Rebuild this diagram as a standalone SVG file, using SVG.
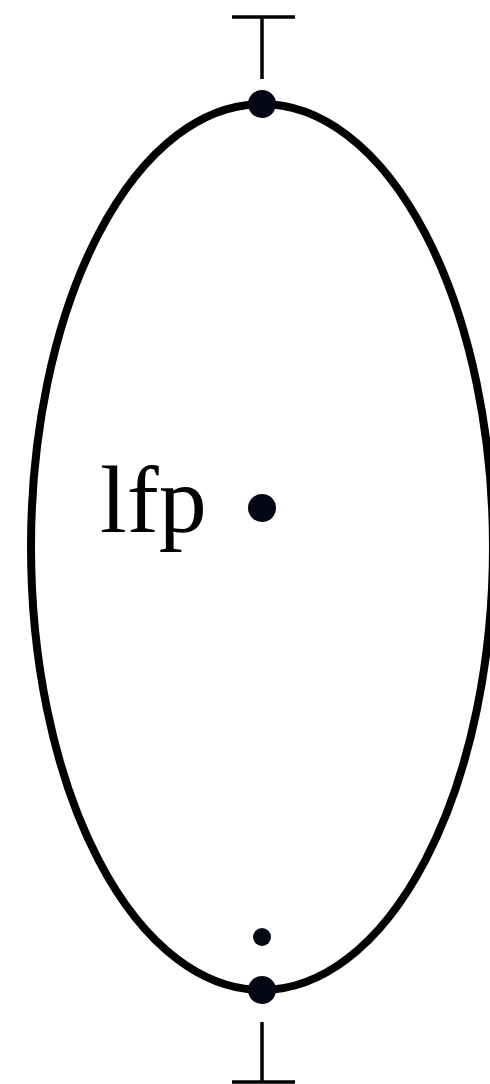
<svg xmlns="http://www.w3.org/2000/svg" width="490" height="1084" viewBox="0 0 490 1084">
<style>
.ln{stroke:#000;stroke-width:3.5;fill:none}
.dot{fill:#050714}
.lbl{font-family:"Liberation Serif","Times New Roman",serif;font-size:96px;fill:#000}
</style>
<rect width="490" height="1084" fill="#fff"/>
<g id="connectors">
<line class="ln" x1="262" y1="17" x2="262" y2="79"/>
<line class="ln" x1="232" y1="17" x2="295" y2="17"/>
<line class="ln" x1="262" y1="1022" x2="262" y2="1083"/>
<line class="ln" x1="232" y1="1082" x2="295" y2="1082"/>
</g>
<g id="region">
<ellipse cx="262" cy="547" rx="231" ry="443" fill="none" stroke="#000" stroke-width="8"/>
</g>
<g id="top"><circle class="dot" cx="262" cy="104" r="14"/></g>
<g id="lfp">
<circle class="dot" cx="262" cy="508" r="14"/>
<text class="lbl" x="100" y="532">lfp</text>
</g>
<g id="inner"><circle class="dot" cx="262" cy="937" r="9"/></g>
<g id="bottom"><circle class="dot" cx="262" cy="990" r="14"/></g>
</svg>
